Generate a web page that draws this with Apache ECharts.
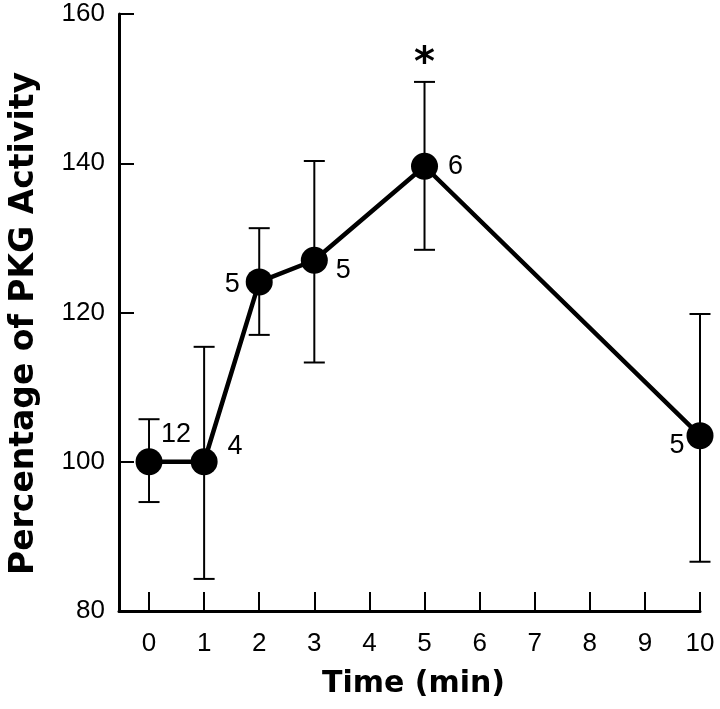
<!DOCTYPE html>
<html>
<head>
<meta charset="utf-8">
<script src="https://cdn.jsdelivr.net/npm/echarts@6/dist/echarts.min.js"></script>
<style>
html,body{margin:0;padding:0;background:#fff;}
#chart{width:720px;height:709px;}
</style>
</head>
<body>
<div id="chart"></div>
<script>
// ---- data ----
var times = [0, 1, 2, 3, 5, 10];
var means = [100, 100, 124.1, 127.0, 139.6, 103.5];
var upper = [105.7, 115.4, 131.3, 140.3, 150.9, 119.8];
var lower = [94.6, 84.3, 117.0, 113.3, 128.4, 86.6];
var nValues = ['12', '4', '5', '5', '6', '5'];
var significance = ['', '', '', '', '*', ''];
var xTicks = [0, 1, 2, 3, 4, 5, 6, 7, 8, 9, 10];
var yTicks = [80, 100, 120, 140, 160];
var xTitle = 'Time (min)';
var yTitle = 'Percentage of PKG Activity';

// ---- build ----
var labelOffsets = [[27, -27], [31, -15], [-27, 3], [29, 10], [31, 0], [-23, 10]];
var lineData = times.map(function (t, i) {
  return {
    value: [t, means[i]],
    label: {
      show: true,
      formatter: nValues[i],
      position: 'inside',
      offset: labelOffsets[i],
      align: 'center',
      verticalAlign: 'middle',
      color: '#000',
      fontSize: 27,
      fontFamily: 'Liberation Sans, Arial, sans-serif'
    }
  };
});
var errData = times.map(function (t, i) { return [t, lower[i], upper[i]]; });

var chart = echarts.init(document.getElementById('chart'), null, {renderer: 'canvas'});
chart.setOption({
  backgroundColor: '#fff',
  animation: false,
  grid: {left: 113, right: 20, top: 14, bottom: 98, containLabel: false},
  xAxis: {
    type: 'value',
    min: -0.545,
    max: 10,
    name: xTitle,
    nameLocation: 'middle',
    nameGap: 58,
    nameTextStyle: {fontSize: 30, fontWeight: 'bold', color: '#000', fontFamily: 'DejaVu Sans', padding: [0, 0, 0, 8]},
    axisLine: {show: true, onZero: false, lineStyle: {color: '#000', width: 3}},
    axisTick: {show: true, inside: true, length: 19, customValues: xTicks, lineStyle: {color: '#000', width: 2}},
    axisLabel: {show: true, customValues: xTicks, margin: 20, fontSize: 26, color: '#000', fontFamily: 'Liberation Sans, Arial, sans-serif'},
    splitLine: {show: false}
  },
  yAxis: {
    type: 'value',
    min: 80,
    max: 160,
    interval: 20,
    name: yTitle,
    nameLocation: 'middle',
    nameGap: 78,
    nameRotate: 90,
    nameTextStyle: {fontSize: 33, fontWeight: 'bold', color: '#000', fontFamily: 'DejaVu Sans', padding: [0, 22, 0, 0]},
    axisLine: {show: true, onZero: false, lineStyle: {color: '#000', width: 3}},
    axisTick: {show: true, inside: true, length: 15, lineStyle: {color: '#000', width: 2}},
    axisLabel: {show: true, margin: 14, fontSize: 26, color: '#000', fontFamily: 'Liberation Sans, Arial, sans-serif'},
    splitLine: {show: false}
  },
  series: [
    {
      type: 'custom',
      z: 1,
      data: errData,
      encode: {x: 0, y: [1, 2]},
      renderItem: function (params, api) {
        var x = api.value(0), lo = api.value(1), hi = api.value(2);
        var pHi = api.coord([x, hi]);
        var pLo = api.coord([x, lo]);
        var hw = 10.5;
        var st = {stroke: '#000', lineWidth: 2};
        var children = [
          {type: 'line', shape: {x1: pHi[0], y1: pHi[1], x2: pLo[0], y2: pLo[1]}, style: st},
          {type: 'line', shape: {x1: pHi[0] - hw, y1: pHi[1], x2: pHi[0] + hw, y2: pHi[1]}, style: st},
          {type: 'line', shape: {x1: pLo[0] - hw, y1: pLo[1], x2: pLo[0] + hw, y2: pLo[1]}, style: st}
        ];
        var s = significance[params.dataIndex];
        if (s) {
          children.push({
            type: 'text',
            style: {
              text: s, x: pHi[0], y: pHi[1] + 3,
              align: 'center', verticalAlign: 'bottom',
              fontSize: 40, fontWeight: 'bold', fill: '#000',
              fontFamily: 'DejaVu Sans'
            }
          });
        }
        return {type: 'group', children: children};
      }
    },
    {
      type: 'line',
      z: 3,
      data: lineData,
      symbol: 'circle',
      symbolSize: 27,
      itemStyle: {color: '#000'},
      lineStyle: {color: '#000', width: 4.5}
    }
  ]
});
</script>
</body>
</html>
